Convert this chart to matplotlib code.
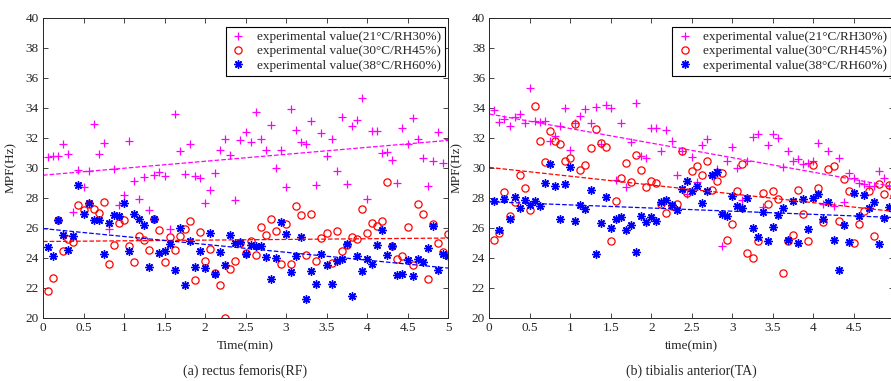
import numpy as np
import matplotlib
matplotlib.use("Agg")
import matplotlib.pyplot as plt

plt.rcParams['font.family'] = ['Liberation Serif', 'DejaVu Serif']
plt.rcParams['mathtext.fontset'] = 'stix'

# ---------------- data ----------------
sample_interval_min = 0.0625
n_samples = 80
time = np.arange(1, n_samples + 1) * sample_interval_min

labels = ['experimental value(21°C/RH30%)',
          'experimental value(30°C/RH45%)',
          'experimental value(38°C/RH60%)']

rf_21 = [30.73, 30.8, 30.8, 31.6, 30.9, 27.07, 29.85, 28.7, 29.8, 32.95,
         30.9, 31.65, 25.9, 29.9, 27.55, 28.2, 31.8, 29.1, 27.95, 29.4,
         27.2, 29.55, 29.75, 29.45, 25.95, 33.6, 31.1, 29.6, 31.6, 29.45,
         29.35, 27.67, 28.55, 29.65, 31.2, 31.95, 30.85, 27.85, 31.85, 32.4,
         31.7, 33.75, 31.95, 31.2, 32.85, 30.0, 31.2, 28.7, 33.9, 32.5,
         31.7, 31.6, 33.15, 28.85, 32.35, 30.8, 31.95, 29.8, 33.4, 28.9,
         32.8, 33.2, 34.65, 27.95, 32.45, 32.45, 31.0, 31.05, 30.5, 29.0,
         32.65, 31.6, 33.3, 31.95, 30.65, 28.8, 30.45, 32.4, 30.35, 31.95]
rf_30 = [21.78, 22.64, 26.5, 24.45, 25.27, 25.04, 27.51, 27.22, 27.6, 27.29,
         27.0, 27.71, 23.62, 24.89, 26.33, 26.56, 24.78, 23.71, 25.44, 25.22,
         24.56, 26.6, 25.89, 23.71, 25.4, 24.51, 25.49, 25.96, 26.44, 22.56,
         25.73, 23.78, 24.6, 23.0, 22.2, 20.0, 23.27, 23.78, 25.0, 24.33,
         25.16, 24.18, 26.04, 25.56, 26.6, 25.78, 23.62, 26.29, 23.62, 27.44,
         26.89, 24.22, 26.96, 23.82, 25.33, 25.67, 23.67, 25.82, 24.49, 24.89,
         25.4, 25.29, 27.29, 25.67, 26.33, 26.11, 26.44, 29.05, 24.82, 23.93,
         24.16, 26.07, 23.56, 27.62, 26.96, 22.62, 26.29, 25.0, 24.38, 25.62]
rf_38 = [24.73, 24.16, 26.56, 25.51, 24.51, 25.44, 28.89, 26.96, 27.67, 26.51,
         26.51, 24.29, 26.33, 26.84, 26.78, 27.67, 24.44, 26.93, 26.62, 26.22,
         23.4, 26.6, 24.33, 24.44, 24.96, 23.22, 26.0, 22.22, 25.16, 23.4,
         24.44, 23.33, 25.67, 22.96, 24.38, 23.56, 25.56, 25.0, 25.04, 24.29,
         24.89, 24.78, 24.78, 24.07, 22.6, 24.0, 26.4, 25.62, 23.04, 24.16,
         25.4, 21.29, 23.11, 22.29, 24.29, 23.51, 22.29, 23.82, 23.96, 24.96,
         21.44, 24.16, 23.11, 23.93, 23.6, 24.89, 25.84, 24.22, 24.82, 22.84,
         22.96, 23.84, 22.82, 23.96, 23.71, 24.67, 26.16, 23.22, 24.29, 24.11]

ta_21 = [33.89, 33.04, 33.27, 32.78, 33.4, 33.62, 33.0, 35.33, 33.13, 33.04,
         33.13, 31.78, 32.11, 32.78, 34.02, 31.18, 33.0, 33.44, 33.93, 33.0,
         34.07, 31.62, 34.2, 34.02, 29.22, 33.0, 28.71, 31.71, 34.33, 30.78,
         30.67, 32.67, 32.67, 31.16, 32.56, 31.78, 29.53, 31.11, 28.29, 30.73,
         29.05, 31.56, 31.93, 29.49, 29.9, 24.82, 30.44, 31.4, 30.0, 27.89,
         30.49, 32.07, 32.27, 27.38, 31.56, 32.29, 32.0, 30.05, 31.16, 30.44,
         30.6, 30.29, 30.33, 30.49, 31.67, 27.6, 31.11, 27.44, 30.67, 27.73,
         29.67, 29.33, 29.0, 28.93, 28.82, 28.82, 29.78, 29.31, 28.82, 28.6]
ta_30 = [25.22, 25.67, 28.38, 26.78, 27.73, 29.56, 28.65, 27.2, 34.11, 31.82,
         30.38, 32.44, 31.78, 31.62, 30.44, 30.67, 32.96, 29.84, 30.22, 31.33,
         32.6, 31.67, 31.38, 25.16, 27.78, 29.35, 30.33, 29.08, 30.89, 29.89,
         28.71, 29.1, 29.0, 27.62, 27.0, 27.47, 27.6, 31.15, 28.31, 29.8,
         30.16, 29.51, 30.47, 28.56, 29.13, 29.69, 25.22, 26.27, 28.44, 30.29,
         24.36, 23.98, 25.16, 28.35, 27.6, 28.44, 27.95, 23.0, 25.11, 25.51,
         28.56, 26.93, 25.16, 30.2, 28.65, 26.42, 29.96, 30.16, 26.49, 29.28,
         28.47, 25.0, 26.24, 27.11, 28.46, 25.44, 28.96, 28.27, 28.85, 28.1]
ta_38 = [27.78, 25.89, 27.96, 26.62, 28.07, 27.33, 27.84, 27.51, 27.78, 27.44,
         29.0, 30.27, 28.78, 26.62, 28.96, 30.04, 26.44, 27.56, 27.29, 28.56,
         24.29, 26.33, 28.07, 26.0, 26.6, 26.71, 25.89, 26.22, 24.38, 26.82,
         26.38, 26.71, 26.44, 27.73, 27.89, 27.51, 27.22, 28.6, 29.1, 28.44,
         28.82, 27.67, 28.44, 29.51, 29.73, 26.96, 26.82, 28.11, 27.49, 27.33,
         28.0, 26.0, 25.4, 27.04, 25.11, 26.07, 26.89, 27.33, 25.22, 27.78,
         25.0, 27.96, 25.93, 28.0, 28.27, 26.6, 27.71, 25.22, 23.18, 26.18,
         25.04, 28.33, 26.82, 28.18, 27.33, 27.73, 24.93, 26.67, 27.4, 27.1]

# fitted trend lines: value at t=0 and t=5 min
fit_t = [0.0, 5.0]
rf_fit_21 = [29.52, 31.84]
rf_fit_30 = [25.10, 25.33]
rf_fit_38 = [25.96, 23.33]
ta_fit_21 = [33.60, 28.75]
ta_fit_30 = [30.04, 27.10]
ta_fit_38 = [27.75, 26.70]

xticks = [0, 0.5, 1, 1.5, 2, 2.5, 3, 3.5, 4, 4.5, 5]
xticklabels = ['0', '0.5', '1', '1.5', '2', '2.5', '3', '3.5', '4', '4.5', '5']
yticks = list(range(20, 41, 2))

# ---------------- styling ----------------
MAG = '#FF00FF'
RED = '#FF0000'
BLU = '#0000FF'
AXC = '#262626'
FS = 9.5

fig = plt.figure(figsize=(8.91, 3.81), dpi=100)
W, H = 891, 381


def make_axes(left_px):
    return fig.add_axes([left_px / W, (H - 318) / H, 405 / W, 300 / H])


def draw_panel(ax, y21, y30, y38, f21, f30, f38, xlabel):
    ax.plot(time, y21, linestyle='none', marker='+', color=MAG,
            markersize=6, markeredgewidth=0.9, label=labels[0])
    ax.plot(time, y30, linestyle='none', marker='o', markerfacecolor='none',
            markeredgecolor=RED, markersize=5.2, markeredgewidth=0.9,
            label=labels[1])
    ax.plot(time, y38, linestyle='none', marker=(8, 2, 0), color=BLU,
            markersize=6, markeredgewidth=1.0, label=labels[2])
    ax.plot(fit_t, f21, linestyle='--', color=MAG, linewidth=0.9)
    ax.plot(fit_t, f30, linestyle='--', color=RED, linewidth=0.9)
    ax.plot(fit_t, f38, linestyle='--', color=BLU, linewidth=0.9)

    ax.set_xlim(0, 5)
    ax.set_ylim(20, 40)
    ax.set_xticks(xticks)
    ax.set_xticklabels(xticklabels)
    ax.set_yticks(yticks)
    ax.tick_params(direction='in', length=3.5, width=0.6, colors=AXC,
                   labelsize=FS, top=True, right=True, pad=3)
    for s in ax.spines.values():
        s.set_color(AXC)
        s.set_linewidth(0.7)
    ax.set_xlabel(xlabel, fontsize=FS, color=AXC)
    ax.set_ylabel('MPF(Hz)', fontsize=FS, color=AXC)
    ax.xaxis.set_label_coords(0.5, -0.075)
    ax.yaxis.set_label_coords(-0.064, 0.5)

    leg = ax.legend(loc='upper right', bbox_to_anchor=(1 - 3 / 405, 1 - 9 / 300),
                    borderaxespad=0, fontsize=FS, numpoints=1, handlelength=1.3,
                    handletextpad=0.75, borderpad=0.3, labelspacing=0.15,
                    fancybox=False, framealpha=1, edgecolor='black')
    leg.get_frame().set_linewidth(0.8)
    for t in leg.get_texts():
        t.set_color(AXC)


ax1 = make_axes(43)
draw_panel(ax1, rf_21, rf_30, rf_38, rf_fit_21, rf_fit_30, rf_fit_38, 'Time(min)')
ax2 = make_axes(489.3)
draw_panel(ax2, ta_21, ta_30, ta_38, ta_fit_21, ta_fit_30, ta_fit_38, 'time(min)')

fig.text((43 + 405 / 2) / W, 1 - 371 / H, '(a) rectus femoris(RF)',
         ha='center', va='center', fontsize=10, color=AXC)
fig.text((489.3 + 405 / 2) / W, 1 - 371 / H, '(b) tibialis anterior(TA)',
         ha='center', va='center', fontsize=10, color=AXC)

fig.savefig('out.png', dpi=100)
